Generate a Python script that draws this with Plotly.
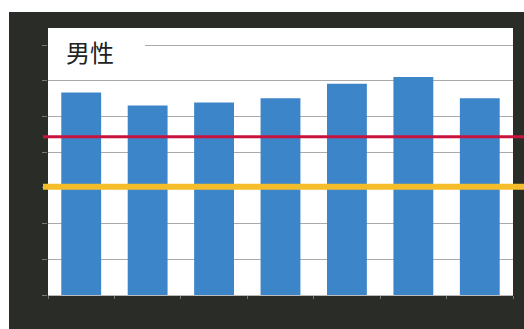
import plotly.graph_objects as go

categories = ["1", "2", "3", "4", "5", "6", "7"]
values = [56.7, 53.1, 53.9, 55.1, 59.2, 61.1, 55.1]
red_level = [44.3]
yellow_level = [30.3]
title_text = "男性"

W, H = 524, 329
L, R, T, B = 48, 11, 28, 34
pw, ph = W - L - R, H - T - B

def px_x(p):
    return (p - L) / pw

def px_y(p):
    return (H - B - p) / ph

dark = "#2a2c28"

fig = go.Figure()
fig.add_trace(go.Bar(x=categories, y=values, marker=dict(color="#3d85c9", line=dict(width=0)),
                     width=0.6, showlegend=False))

shapes = [
    # white strips outside the dark frame
    dict(type="rect", xref="paper", yref="paper", x0=px_x(0), x1=px_x(W), y0=px_y(12), y1=px_y(0),
         fillcolor="white", line=dict(width=0), layer="above"),
    dict(type="rect", xref="paper", yref="paper", x0=px_x(0), x1=px_x(9), y0=px_y(H), y1=px_y(0),
         fillcolor="white", line=dict(width=0), layer="above"),
    # white box behind title covering gridline
    dict(type="rect", xref="paper", yref="paper", x0=0, x1=px_x(145), y0=px_y(62), y1=px_y(36),
         fillcolor="white", line=dict(width=0), layer="above"),
    dict(type="line", xref="paper", yref="y", x0=px_x(43), x1=px_x(W), y0=red_level[0], y1=red_level[0],
         line=dict(color="#c8143c", width=3), layer="above"),
    dict(type="line", xref="paper", yref="y", x0=px_x(43), x1=px_x(W), y0=yellow_level[0], y1=yellow_level[0],
         line=dict(color="#f5bd2a", width=6), layer="above"),
]

fig.update_layout(
    width=W, height=H,
    margin=dict(l=L, r=R, t=T, b=B, pad=0),
    paper_bgcolor=dark, plot_bgcolor="white",
    bargap=0.4,
    shapes=shapes,
    annotations=[dict(text=title_text, xref="paper", yref="paper", x=px_x(64), y=px_y(51),
                      xanchor="left", yanchor="middle", showarrow=False,
                      font=dict(family="Noto Sans CJK JP", size=24, color="#222222"))],
    xaxis=dict(showticklabels=False, showgrid=False, zeroline=False, ticks="outside", tickson="boundaries",
               ticklen=3, tickcolor="#777777", showline=True, linecolor="#bbbbbb", linewidth=1,
               range=[-0.5, 6.5]),
    yaxis=dict(range=[0, 74.8], dtick=10, showticklabels=False, showgrid=True, gridcolor="#aaaaaa",
               gridwidth=1, zeroline=False, ticks="outside", ticklen=5, tickcolor="#777777"),
)

fig.write_html("out.html")
